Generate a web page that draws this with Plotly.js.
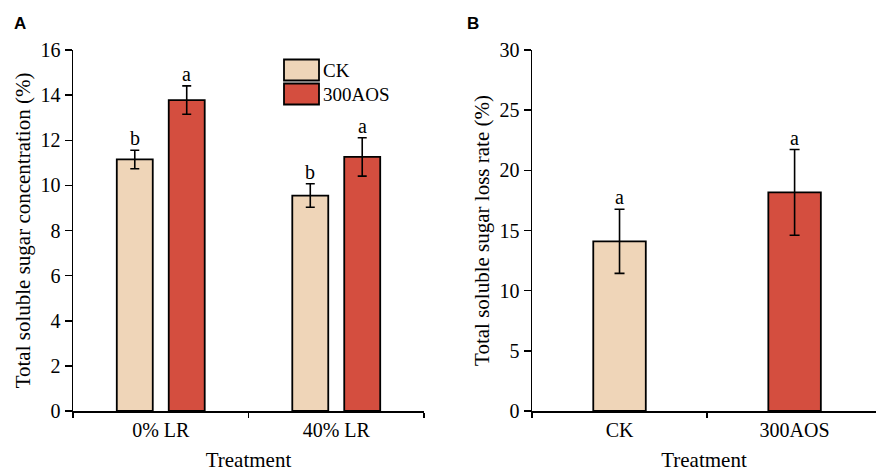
<!DOCTYPE html>
<html>
<head>
<meta charset="utf-8">
<script src="https://cdn.plot.ly/plotly-3.0.1.min.js"></script>
<style>html,body{margin:0;padding:0;background:#fff;}#chart{width:876px;height:472px;}</style>
</head>
<body>
<div id="chart"></div>
<script>
// ---- Data ----
const groupsA = ['0% LR', '40% LR'];
const ckA = [11.15, 9.55];
const ckAErr = [0.41, 0.52];
const ckALetters = ['b', 'b'];
const aosA = [13.78, 11.26];
const aosAErr = [0.63, 0.85];
const aosALetters = ['a', 'a'];

const treatB = ['CK', '300AOS'];
const lossB = [14.1, 18.17];
const lossBErr = [2.66, 3.56];
const lossBLetters = ['a', 'a'];

const seriesNames = ['CK', '300AOS'];
const seriesColors = ['#EFD5B8', '#D44E3F'];

// ---- Styling constants ----
const serif = 'Liberation Serif';
const barWA = 0.205, slotA = 0.296;      // bar width / slot (category units)
const offCK = -slotA / 2 - barWA / 2;
const offAOS = slotA / 2 - barWA / 2;
const barWB = 0.3;

function errObj(arr, w) {
  return {type: 'data', array: arr, visible: true, color: '#000', thickness: 1.6, width: w};
}
function outline() { return {color: '#000', width: 1.8}; }
function tf(size) { return {family: serif, size: size, color: '#000'}; }

const traces = [
  {type: 'bar', x: groupsA, y: ckA, name: seriesNames[0], width: barWA, offset: offCK,
   marker: {color: seriesColors[0], line: outline()}, error_y: errObj(ckAErr, 4.5),
   xaxis: 'x', yaxis: 'y', showlegend: false, hoverinfo: 'y'},
  {type: 'bar', x: groupsA, y: aosA, name: seriesNames[1], width: barWA, offset: offAOS,
   marker: {color: seriesColors[1], line: outline()}, error_y: errObj(aosAErr, 4.5),
   xaxis: 'x', yaxis: 'y', showlegend: false, hoverinfo: 'y'},
  {type: 'bar', x: treatB, y: lossB, width: barWB,
   marker: {color: seriesColors, line: outline()}, error_y: errObj(lossBErr, 5),
   xaxis: 'x2', yaxis: 'y2', showlegend: false, hoverinfo: 'y'}
];

const annotations = [];
groupsA.forEach((g, i) => {
  annotations.push({xref: 'x', yref: 'y', x: i + offCK + barWA / 2, y: ckA[i] + ckAErr[i],
    text: ckALetters[i], showarrow: false, yanchor: 'bottom', yshift: -1, font: tf(20)});
  annotations.push({xref: 'x', yref: 'y', x: i + offAOS + barWA / 2, y: aosA[i] + aosAErr[i],
    text: aosALetters[i], showarrow: false, yanchor: 'bottom', yshift: -1, font: tf(20)});
});
treatB.forEach((t, i) => {
  annotations.push({xref: 'x2', yref: 'y2', x: i, y: lossB[i] + lossBErr[i],
    text: lossBLetters[i], showarrow: false, yanchor: 'bottom', yshift: -1, font: tf(20)});
});
// panel labels
annotations.push({xref: 'paper', yref: 'paper', x: 12 / 876, y: 1 - 12 / 472, xanchor: 'left', yanchor: 'top',
  text: '<b>A</b>', showarrow: false, font: {family: 'Liberation Sans', size: 17, color: '#000'}});
annotations.push({xref: 'paper', yref: 'paper', x: 465 / 876, y: 1 - 12 / 472, xanchor: 'left', yanchor: 'top',
  text: '<b>B</b>', showarrow: false, font: {family: 'Liberation Sans', size: 17, color: '#000'}});

// custom legend (large swatches like the reference)
const legX0 = 284 / 876, legX1 = 319 / 876;
const legRows = [[59.5, 80.5], [83.5, 104.5]];
const shapes = [];
seriesNames.forEach((n, i) => {
  shapes.push({type: 'rect', xref: 'paper', yref: 'paper', x0: legX0, x1: legX1,
    y0: 1 - legRows[i][1] / 472, y1: 1 - legRows[i][0] / 472,
    fillcolor: seriesColors[i], line: {color: '#000', width: 1.8}});
  annotations.push({xref: 'paper', yref: 'paper', x: 321 / 876, y: 1 - (legRows[i][0] + legRows[i][1]) / 2 / 472,
    xanchor: 'left', yanchor: 'middle', text: n, showarrow: false, font: tf(19)});
});

function axisBase() {
  return {
    showline: true, linecolor: '#000', linewidth: 1.5, showgrid: false, zeroline: false,
    ticks: 'outside', tickcolor: '#000', tickwidth: 1.5,
    tickfont: tf(20)
  };
}

const layout = {
  width: 876, height: 472,
  margin: {l: 0, r: 0, t: 0, b: 0},
  paper_bgcolor: '#fff', plot_bgcolor: '#fff',
  barmode: 'overlay',
  showlegend: false,
  font: {family: serif, color: '#000', size: 20},
  xaxis: Object.assign(axisBase(), {
    domain: [73 / 876, 424 / 876], anchor: 'y', type: 'category', range: [-0.5, 1.5],
    tickson: 'boundaries', ticklen: 5,
    title: {text: 'Treatment', font: tf(21), standoff: 13}
  }),
  yaxis: Object.assign(axisBase(), {
    domain: [1 - 411 / 472, 1 - 50 / 472], anchor: 'x', range: [0, 16], dtick: 2, ticklen: 7,
    title: {text: 'Total soluble sugar concentration (%)', font: tf(21), standoff: 4}
  }),
  xaxis2: Object.assign(axisBase(), {
    domain: [532 / 876, 1], anchor: 'y2', type: 'category', range: [-0.5, 1.465],
    tickson: 'boundaries', ticklen: 5,
    title: {text: 'Treatment', font: tf(21), standoff: 13}
  }),
  yaxis2: Object.assign(axisBase(), {
    domain: [1 - 411 / 472, 1 - 50 / 472], anchor: 'x2', range: [0, 30], dtick: 5, ticklen: 7,
    title: {text: 'Total soluble sugar loss rate (%)', font: tf(21), standoff: 4}
  }),
  annotations: annotations,
  shapes: shapes
};

Plotly.newPlot('chart', traces, layout, {displayModeBar: false, staticPlot: true});
</script>
</body>
</html>
